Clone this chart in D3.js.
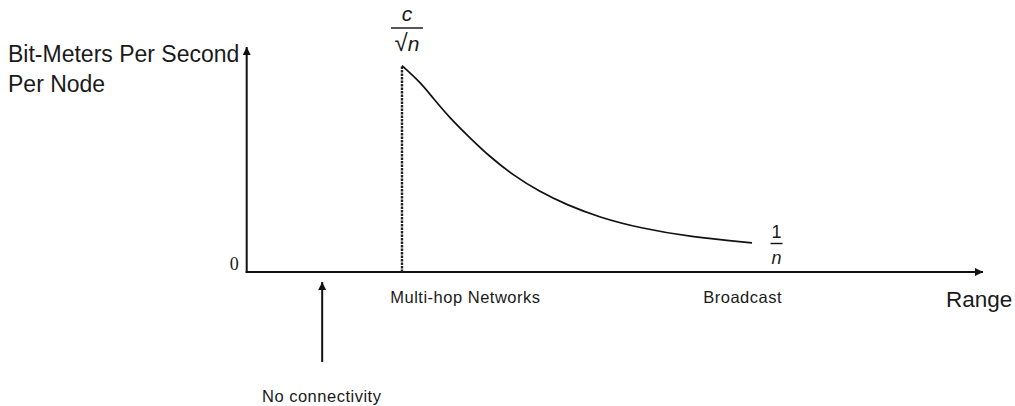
<!DOCTYPE html>
<html>
<head>
<meta charset="utf-8">
<script src="https://cdn.jsdelivr.net/npm/d3@7/dist/d3.min.js"></script>
<style>
  html, body { margin: 0; padding: 0; background: #fff; }
  svg { display: block; }
  text { font-family: "Liberation Sans", Arial, Helvetica, sans-serif; fill: #1a1a1a; }
</style>
</head>
<body>
<svg id="chart" width="1015" height="406"></svg>
<script>
// Per-node transport capacity versus transmission range
const curveRange = [21.09, 23.54, 25.31, 27.61, 30.33, 33.04, 36.17, 39.83, 43.50, 47.98, 53.41, 60.20, 68.63];
const curveRate  = [1.0, 0.921, 0.843, 0.746, 0.650, 0.558, 0.470, 0.388, 0.325, 0.264, 0.213, 0.170, 0.141];

// Regime labels placed along the range axis
const regimeLabels = ["Multi-hop Networks", "Broadcast"];
const regimeRange  = [19.5, 62.0];
const noConnectivityRange = 10.25;

const yTickLabels = ["0"];
const yTickValues = [0];

const svg = d3.select("#chart");
const ink = "#111";

const x = d3.scaleLinear().domain([0, 100]).range([246.7, 983]);
const y = d3.scaleLinear().domain([0, 1]).range([272, 65.7]);

// Arrowhead markers for the axes
const defs = svg.append("defs");
defs.append("marker")
  .attr("id", "arrow")
  .attr("viewBox", "0 0 10 10")
  .attr("refX", 10).attr("refY", 5)
  .attr("markerUnits", "userSpaceOnUse")
  .attr("markerWidth", 9).attr("markerHeight", 8)
  .attr("orient", "auto")
  .append("path").attr("d", "M0,0 L10,5 L0,10 Z").attr("fill", ink);

// Axes
const [x0, x1] = x.range();
const [yb] = y.range();
svg.append("line")
  .attr("x1", x0 - 1).attr("y1", yb).attr("x2", x1).attr("y2", yb)
  .attr("stroke", ink).attr("stroke-width", 2).attr("marker-end", "url(#arrow)");
svg.append("line")
  .attr("x1", x0).attr("y1", yb + 1).attr("x2", x0).attr("y2", 47)
  .attr("stroke", ink).attr("stroke-width", 2).attr("marker-end", "url(#arrow)");

// Y tick label
svg.selectAll(".ytick").data(yTickValues).enter().append("text")
  .attr("class", "ytick")
  .attr("x", x0 - 8).attr("y", d => y(d) - 2)
  .attr("text-anchor", "end")
  .style("font-family", "'Liberation Serif', 'Times New Roman', serif")
  .style("font-size", "18px")
  .text((d, i) => yTickLabels[i]);

// Axis titles
const yTitle = svg.append("text").style("font-size", "23px");
yTitle.append("tspan").attr("x", 8).attr("y", 62).text("Bit-Meters Per Second");
yTitle.append("tspan").attr("x", 8).attr("y", 92).text("Per Node");

svg.append("text")
  .attr("x", 946).attr("y", 307)
  .style("font-size", "22.5px")
  .text("Range");

// Dashed boundary where multi-hop operation begins
svg.append("line")
  .attr("x1", x(curveRange[0])).attr("y1", yb)
  .attr("x2", x(curveRange[0])).attr("y2", y(curveRate[0]))
  .attr("stroke", "#222").attr("stroke-width", 2.4)
  .attr("stroke-dasharray", "2.5,1");

// Capacity curve
const line = d3.line()
  .x((d, i) => x(curveRange[i]))
  .y(d => y(d))
  .curve(d3.curveBasis);
svg.append("path")
  .datum(curveRate)
  .attr("d", line)
  .attr("fill", "none")
  .attr("stroke", ink)
  .attr("stroke-width", 1.7);

// Regime labels under the axis
svg.selectAll(".regime").data(regimeLabels).enter().append("text")
  .attr("class", "regime")
  .attr("x", (d, i) => x(regimeRange[i]))
  .attr("y", 303)
  .style("font-size", "16.5px")
  .style("letter-spacing", "0.5px")
  .text(d => d);

// "No connectivity" pointer
const nx = x(noConnectivityRange);
svg.append("line")
  .attr("x1", nx).attr("y1", 362).attr("x2", nx).attr("y2", 282)
  .attr("stroke", ink).attr("stroke-width", 2).attr("marker-end", "url(#arrow)");
svg.append("text")
  .attr("x", 262).attr("y", 402)
  .style("font-size", "16.5px")
  .style("letter-spacing", "0.5px")
  .text("No connectivity");

// Fraction annotations at the curve ends
function fraction(cx, numY, barY, denY, num, den, halfWidth, size) {
  const g = svg.append("g");
  g.append("line")
    .attr("x1", cx - halfWidth).attr("x2", cx + halfWidth)
    .attr("y1", barY).attr("y2", barY)
    .attr("stroke", ink).attr("stroke-width", 1.4);
  num(g.append("text").attr("x", cx).attr("y", numY).attr("text-anchor", "middle").style("font-size", size));
  den(g.append("text").attr("x", cx).attr("y", denY).attr("text-anchor", "middle").style("font-size", size));
}

fraction(407, 21, 28, 51,
  t => t.append("tspan").style("font-style", "italic").text("c"),
  t => { t.append("tspan").style("font-size", "24px").text("\u221A"); t.append("tspan").style("font-style", "italic").text("n"); },
  16, "21px");

fraction(776.5, 238, 243.5, 264,
  t => t.text("1"),
  t => t.append("tspan").style("font-style", "italic").text("n"),
  6, "18px");
</script>
</body>
</html>
